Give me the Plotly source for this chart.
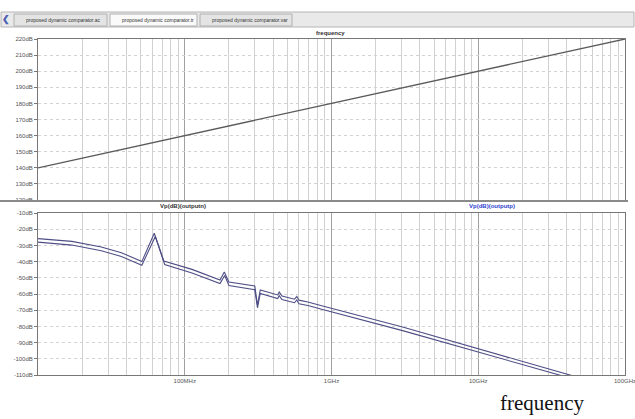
import plotly.graph_objects as go

# ---------------- data ----------------
top_freq = [1e7, 1e8, 1e9, 1e10, 1e11]
top_db = [140, 160, 180, 200, 220]

out_n_freq = [1.0e7, 1.7e7, 2.7e7, 3.7e7, 5.1e7, 6.2e7, 7.2e7, 1.12e8, 1.74e8, 1.86e8, 2.0e8,
              3.0e8, 3.13e8, 3.27e8, 4.3e8, 4.4e8, 4.6e8, 5.6e8, 5.8e8, 6.0e8, 6.9e8, 8.7e8,
              3.05e9, 1.07e10, 4.4e10]
out_n_db = [-25.8, -27.5, -31.0, -34.5, -40.0, -22.5, -39.6, -44.8, -51.4, -46.4, -52.6,
            -55.1, -66.8, -57.5, -60.6, -58.8, -61.2, -63.2, -61.5, -63.8, -64.9, -67.4,
            -80.4, -94.6, -110.5]

out_p_freq = [1.0e7, 1.7e7, 2.7e7, 3.7e7, 5.1e7, 6.3e7, 7.3e7, 1.12e8, 1.74e8, 1.87e8, 2.0e8,
              3.0e8, 3.13e8, 3.27e8, 4.3e8, 4.4e8, 4.6e8, 5.6e8, 5.8e8, 6.0e8, 6.9e8, 8.7e8,
              3.05e9, 1.07e10, 3.9e10]
out_p_db = [-28.0, -29.8, -33.3, -36.8, -42.3, -24.5, -41.8, -47.0, -53.6, -48.6, -54.8,
            -57.3, -68.5, -59.7, -62.8, -61.0, -63.4, -65.4, -63.7, -66.0, -67.1, -69.6,
            -82.6, -96.8, -111.0]

top_ticks = [220, 210, 200, 190, 180, 170, 160, 150, 140, 130, 120]
bot_ticks = [-10, -20, -30, -40, -50, -60, -70, -80, -90, -100, -110]
x_major = [1e7, 1e8, 1e9, 1e10, 1e11]
x_labels = ["", "100MHz", "1GHz", "10GHz", "100GHz"]
x_minor = [m * d for d in [1e7, 1e8, 1e9, 1e10] for m in range(2, 10)]

tab_names = ["proposed dynamic comparator.ac", "proposed dynamic comparator.tr",
             "proposed dynamic comparator.var"]

# ---------------- figure ----------------
W, H = 635, 419
def py(pix):
    return 1 - pix / H
def px(pix):
    return pix / W

fig = go.Figure()
trace_col = "#4e4e86"
fig.add_trace(go.Scatter(x=top_freq, y=top_db, mode="lines",
                         line=dict(color="#5a5a5a", width=1.3), xaxis="x", yaxis="y"))
fig.add_trace(go.Scatter(x=out_n_freq, y=out_n_db, mode="lines",
                         line=dict(color=trace_col, width=1.1), xaxis="x2", yaxis="y2"))
fig.add_trace(go.Scatter(x=out_p_freq, y=out_p_db, mode="lines",
                         line=dict(color=trace_col, width=1.1), xaxis="x2", yaxis="y2"))

tickfont = dict(family="Liberation Sans, Arial", size=6, color="#555555")
xcommon = dict(type="log", range=[7, 11], tickmode="array", tickvals=x_major,
               showgrid=True, gridcolor="#a0a0a0", gridwidth=1,
               minor=dict(tickmode="array", tickvals=x_minor, showgrid=True,
                          gridcolor="#d0d0d0", gridwidth=1, ticks=""),
               showline=True, linecolor="#777777", linewidth=1, mirror=True,
               zeroline=False, tickfont=tickfont, domain=[px(38), px(625)],
               ticklabeloverflow="allow", automargin=False)
ycommon = dict(showgrid=True, gridcolor="#d2d2d2", griddash="dot", gridwidth=1,
               showline=True, linecolor="#777777", linewidth=1, mirror=True,
               zeroline=False, tickfont=tickfont, ticks="outside", ticklen=3,
               tickcolor="#777777", tickmode="array", ticklabeloverflow="allow",
               automargin=False)

fig.update_layout(
    width=W, height=H, margin=dict(l=0, r=0, t=0, b=0),
    paper_bgcolor="white", plot_bgcolor="white", showlegend=False,
    xaxis=dict(xcommon, anchor="y", ticktext=["", "", "", "", ""], showticklabels=False),
    yaxis=dict(ycommon, domain=[py(200), py(39)], range=[120, 220], anchor="x",
               tickvals=top_ticks, ticktext=[f"{v}dB" for v in top_ticks]),
    xaxis2=dict(xcommon, anchor="y2", ticktext=x_labels, ticks="", ticklen=0),
    yaxis2=dict(ycommon, domain=[py(375), py(213)], range=[-110, -10], anchor="x2",
                tickvals=bot_ticks, ticktext=[f"{v}dB" for v in bot_ticks]),
)

shapes = []
# tab strip
shapes.append(dict(type="rect", xref="paper", yref="paper", x0=px(1), x1=px(634),
                   y0=py(27), y1=py(12), fillcolor="#e9e9e9",
                   line=dict(color="#b5b5b5", width=1), layer="below"))
tab_x = [(14, 107), (110, 197), (200, 292)]
tab_fill = ["#e4e4e4", "#fafafa", "#e4e4e4"]
for (a, b), f in zip(tab_x, tab_fill):
    shapes.append(dict(type="rect", xref="paper", yref="paper", x0=px(a), x1=px(b),
                       y0=py(26), y1=py(14), fillcolor=f,
                       line=dict(color="#b0b0b0", width=1)))
# panel separator strip
shapes.append(dict(type="line", xref="paper", yref="paper", x0=px(0), x1=px(628),
                   y0=py(201), y1=py(201), line=dict(color="#8a8a8a", width=2)))
fig.update_layout(shapes=shapes)

def note(x, y, text, size, color, family="Liberation Sans, Arial", xanchor="center"):
    return dict(x=px(x), y=py(y), xref="paper", yref="paper", text=text, showarrow=False,
                xanchor=xanchor, yanchor="middle",
                font=dict(family=family, size=size, color=color))

ann = []
for (a, b), name in zip(tab_x, tab_names):
    ann.append(note(a + 10, 20, name, 5, "#333333", xanchor="left"))
ann.append(note(6, 20, "<b>❮</b>", 9, "#4a5fb5"))
ann.append(note(330, 33, "<b>frequency</b>", 6, "#333333"))
ann.append(note(183, 206, "<b>Vp(dB)(outputn)</b>", 6, "#333333"))
ann.append(note(492, 206, "<b>Vp(dB)(outputp)</b>", 6, "#2f3fcf"))
ann.append(note(542, 403, "frequency", 21, "#111111", family="Liberation Serif, Times New Roman"))
fig.update_layout(annotations=ann)

fig.write_html("out.html", config={"displayModeBar": False},
               post_script="document.body.style.margin='0';document.body.style.overflow='hidden';")
